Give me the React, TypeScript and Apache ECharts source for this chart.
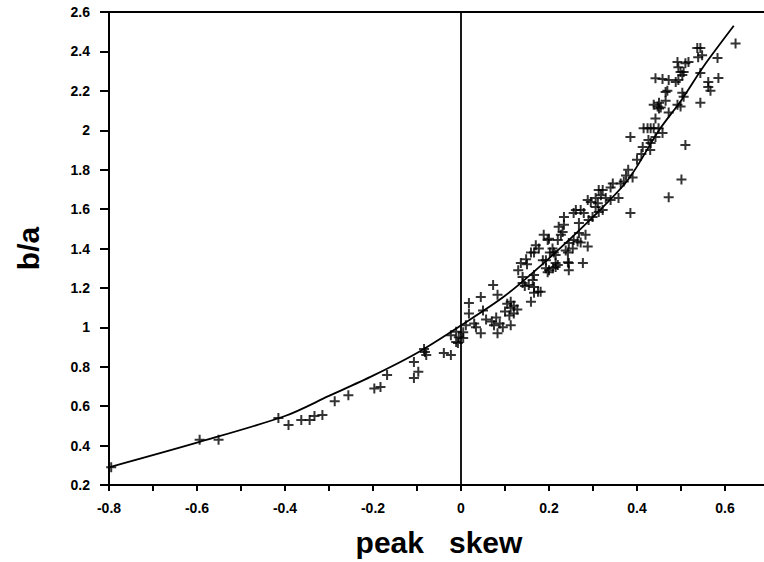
import React, { useEffect, useRef } from "react";
import * as echarts from "echarts";

const xTicks = { min: -0.8, max: 0.7, interval: 0.1 };
const yTicks = { min: 0.2, max: 2.6, interval: 0.2 };

const fitSkew = [-0.8, -0.6, -0.4, -0.3, -0.2, -0.1, 0, 0.1, 0.2, 0.3, 0.38, 0.45, 0.5, 0.55, 0.62];
const fitRatio = [0.29, 0.415, 0.55, 0.652, 0.755, 0.87, 1.01, 1.16, 1.35, 1.56, 1.75, 2.0, 2.15, 2.32, 2.53];

const pointsNegative: [number, number][] = [
  [-0.795, 0.29], [-0.594, 0.43], [-0.551, 0.43], [-0.415, 0.54], [-0.392, 0.505],
  [-0.363, 0.53], [-0.344, 0.53], [-0.333, 0.55], [-0.315, 0.555], [-0.287, 0.625],
  [-0.256, 0.656], [-0.197, 0.69], [-0.183, 0.697], [-0.168, 0.758], [-0.107, 0.824],
  [-0.107, 0.743], [-0.097, 0.774], [-0.084, 0.89], [-0.079, 0.86], [-0.082, 0.875],
  [-0.039, 0.87], [-0.023, 0.86], [-0.023, 0.96], [-0.011, 0.926], [-0.011, 0.977],
  [-0.005, 0.95], [0.005, 0.946], [-0.007, 0.92], [0.005, 0.975],
];

const pointsLow: [number, number][] = [
  [0.018, 1.124], [0.018, 1.07], [0.011, 1.01], [0.03, 1.02], [0.045, 1.154],
  [0.05, 1.085], [0.034, 1.0], [0.045, 0.97], [0.073, 1.215], [0.083, 1.165],
  [0.083, 0.97], [0.057, 1.04], [0.07, 1.03], [0.075, 1.01], [0.08, 1.05],
  [0.088, 1.02], [0.095, 1.0], [0.113, 1.13], [0.113, 1.1], [0.105, 1.12],
  [0.12, 1.11], [0.113, 1.01], [0.11, 1.06], [0.12, 1.07], [0.128, 1.09],
  [0.1, 1.08], [0.14, 1.225], [0.145, 1.21], [0.154, 1.215], [0.175, 1.18],
  [0.181, 1.18], [0.159, 1.13], [0.166, 1.175], [0.14, 1.255], [0.13, 1.29],
  [0.136, 1.327], [0.15, 1.32], [0.148, 1.345], [0.166, 1.266], [0.159, 1.38],
  [0.193, 1.34], [0.2, 1.29], [0.209, 1.3], [0.215, 1.306], [0.22, 1.316],
  [0.197, 1.28], [0.211, 1.38], [0.243, 1.38], [0.245, 1.327], [0.277, 1.327],
  [0.163, 1.24], [0.166, 1.205],
];

const pointsMid: [number, number][] = [
  [0.166, 1.38], [0.17, 1.417], [0.177, 1.4], [0.186, 1.34], [0.188, 1.47],
  [0.197, 1.443], [0.2, 1.45], [0.193, 1.3], [0.215, 1.327], [0.215, 1.367],
  [0.22, 1.443], [0.227, 1.47], [0.222, 1.51], [0.234, 1.56], [0.234, 1.52],
  [0.231, 1.484], [0.245, 1.428], [0.238, 1.39], [0.254, 1.4], [0.256, 1.443],
  [0.243, 1.33], [0.245, 1.29], [0.265, 1.435], [0.272, 1.43], [0.283, 1.47],
  [0.288, 1.41], [0.268, 1.479], [0.268, 1.53], [0.261, 1.595], [0.256, 1.58],
  [0.272, 1.595], [0.279, 1.58], [0.29, 1.545], [0.299, 1.56], [0.288, 1.646],
  [0.295, 1.636], [0.306, 1.656], [0.306, 1.61], [0.313, 1.585], [0.311, 1.63],
  [0.322, 1.595], [0.313, 1.697], [0.318, 1.67], [0.322, 1.697], [0.34, 1.71],
  [0.345, 1.73], [0.329, 1.656], [0.34, 1.646], [0.358, 1.656], [0.37, 1.74],
  [0.363, 1.73], [0.385, 1.58], [0.208, 1.4], [0.202, 1.38],
];

const pointsHigh: [number, number][] = [
  [0.375, 1.77], [0.38, 1.8], [0.4, 1.85], [0.41, 1.88], [0.43, 1.9], [0.39, 1.76],
  [0.385, 1.966], [0.413, 1.915], [0.415, 2.01], [0.424, 2.01], [0.431, 2.01],
  [0.438, 2.01], [0.449, 2.01], [0.426, 1.95], [0.442, 1.966], [0.431, 1.935],
  [0.458, 1.986], [0.51, 1.925], [0.442, 2.06], [0.447, 2.12], [0.45, 2.11],
  [0.454, 2.115], [0.438, 2.13], [0.45, 2.14], [0.465, 2.15], [0.472, 2.09],
  [0.465, 2.194], [0.469, 2.2], [0.503, 2.19], [0.506, 2.17], [0.492, 2.13],
  [0.499, 2.12], [0.472, 2.255], [0.494, 2.255], [0.442, 2.264], [0.458, 2.26],
  [0.488, 2.245], [0.492, 2.346], [0.494, 2.32], [0.51, 2.34], [0.517, 2.346],
  [0.506, 2.296], [0.499, 2.296], [0.503, 2.28], [0.544, 2.417], [0.548, 2.38],
  [0.537, 2.417], [0.539, 2.37], [0.544, 2.29], [0.562, 2.245], [0.567, 2.2],
  [0.562, 2.22], [0.585, 2.265], [0.544, 2.14], [0.583, 2.366], [0.624, 2.44],
  [0.472, 1.66], [0.501, 1.75],
];

const PLUS = "path://M4,0h2v4h4v2h-4v4h-2v-4h-4v-2h4z";
const FONT = "Liberation Sans";

export default function App() {
  const ref = useRef<HTMLDivElement>(null);
  useEffect(() => {
    if (!ref.current) return;
    const chart = echarts.init(ref.current, undefined, { renderer: "svg" });
    const allPoints = [...pointsNegative, ...pointsLow, ...pointsMid, ...pointsHigh];
    chart.setOption({
      animation: false,
      backgroundColor: "#fff",
      grid: {
        left: 109,
        top: 12,
        bottom: 77,
        right: 0,
        show: true,
        borderColor: "#000",
        borderWidth: 2,
      },
      xAxis: {
        type: "value",
        min: xTicks.min,
        max: xTicks.max,
        interval: xTicks.interval,
        name: "peak   skew",
        nameLocation: "middle",
        nameGap: 42,
        nameTextStyle: { fontFamily: FONT, fontWeight: "bold", fontSize: 30, color: "#000" },
        axisLine: { show: true, onZero: false, lineStyle: { color: "#000", width: 2 } },
        axisTick: { show: true, length: 6, lineStyle: { color: "#000", width: 2 } },
        axisLabel: {
          margin: 16,
          fontFamily: FONT,
          fontWeight: "bold",
          fontSize: 14,
          color: "#000",
          formatter: (v: number) => {
            const t = Math.round(v * 10);
            if (t % 2 !== 0) return "";
            return String(t / 10);
          },
        },
        splitLine: { show: false },
      },
      yAxis: {
        type: "value",
        min: yTicks.min,
        max: yTicks.max,
        interval: yTicks.interval,
        name: "b/a",
        nameLocation: "middle",
        nameGap: 66,
        nameTextStyle: { fontFamily: FONT, fontWeight: "bold", fontSize: 30, color: "#000" },
        axisLine: { show: true, onZero: false, lineStyle: { color: "#000", width: 2 } },
        axisTick: { show: true, length: 9, lineStyle: { color: "#000", width: 2 } },
        axisLabel: {
          margin: 19,
          fontFamily: FONT,
          fontWeight: "bold",
          fontSize: 14,
          color: "#000",
          formatter: (v: number) => String(Math.round(v * 10) / 10),
        },
        splitLine: { show: false },
      },
      series: [
        {
          type: "line",
          data: fitSkew.map((x, i) => [x, fitRatio[i]]),
          showSymbol: false,
          smooth: 0.3,
          lineStyle: { color: "#000", width: 1.8 },
          markLine: {
            silent: true,
            symbol: "none",
            label: { show: false },
            lineStyle: { color: "#000", width: 1.8, type: "solid" },
            data: [{ xAxis: 0 }],
          },
          z: 3,
        },
        {
          type: "scatter",
          data: allPoints,
          symbol: PLUS,
          symbolSize: 10,
          itemStyle: { color: "#000" },
          z: 4,
        },
      ],
    });
    return () => chart.dispose();
  }, []);
  return (
    <div style={{ position: "fixed", left: 0, top: 0, width: 764, height: 562, overflow: "hidden", background: "#fff" }}>
      <div ref={ref} style={{ width: 772, height: 562 }} />
    </div>
  );
}
